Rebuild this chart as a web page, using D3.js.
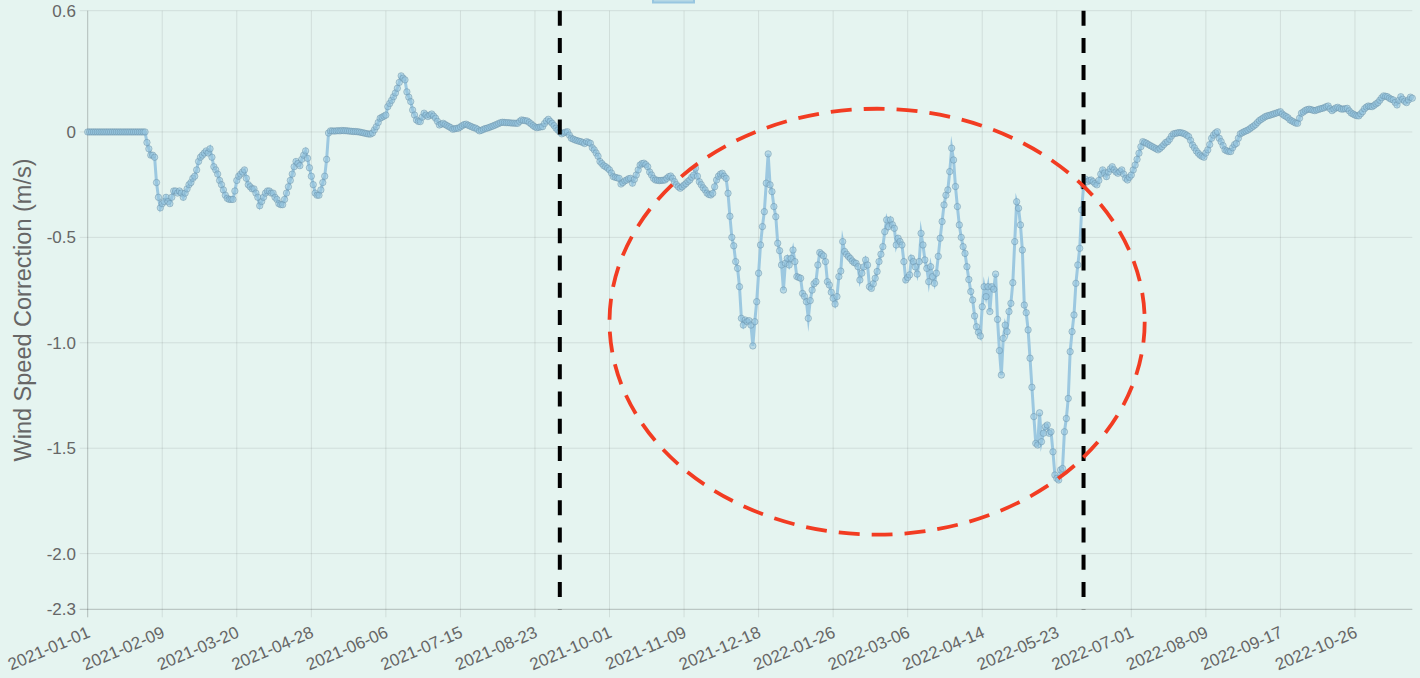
<!DOCTYPE html>
<html>
<head>
<meta charset="utf-8">
<script src="https://cdn.jsdelivr.net/npm/d3@7"></script>
<style>
  html, body { margin: 0; padding: 0; background: #e5f4f0; overflow: hidden; }
  svg { display: block; font-family: "Liberation Sans", Arial, Helvetica, sans-serif; }
</style>
</head>
<body>
<svg id="chart" width="1420" height="678"></svg>
<script>
// ---------------- data ----------------
const startDate = "2021-01-01";   // first daily value
const endDate = "2022-11-25";     // last daily value
const seriesName = "Wind Speed Correction";
const yTitle = "Wind Speed Correction (m/s)";

// daily wind speed correction (m/s), 2021
const values2021 = [
  0,0,0,0,0,0,0,0,0,0,
  0,0,0,0,0,0,0,0,0,0,
  0,0,0,0,0,0,0,0,0,0,
  0,-0.05,-0.08,-0.11,-0.11,-0.12,-0.24,-0.31,-0.36,-0.34,
  -0.33,-0.31,-0.33,-0.34,-0.31,-0.28,-0.28,-0.29,-0.28,-0.29,
  -0.31,-0.29,-0.27,-0.25,-0.24,-0.22,-0.21,-0.18,-0.14,-0.12,
  -0.11,-0.10,-0.09,-0.10,-0.08,-0.12,-0.165,-0.18,-0.20,-0.23,
  -0.25,-0.275,-0.30,-0.315,-0.32,-0.32,-0.32,-0.28,-0.23,-0.21,
  -0.20,-0.19,-0.18,-0.22,-0.25,-0.26,-0.27,-0.27,-0.29,-0.31,
  -0.35,-0.33,-0.31,-0.29,-0.28,-0.28,-0.29,-0.29,-0.31,-0.32,
  -0.34,-0.345,-0.345,-0.32,-0.29,-0.26,-0.23,-0.20,-0.165,-0.14,
  -0.15,-0.16,-0.13,-0.11,-0.09,-0.125,-0.17,-0.21,-0.25,-0.29,
  -0.30,-0.30,-0.275,-0.24,-0.21,-0.13,-0.005,0.005,0.005,0.004,
  0.005,0.006,0.005,0.007,0.006,0.006,0.005,0.004,0.003,0.002,
  0.002,0.001,0,-0.002,-0.004,-0.006,-0.008,-0.01,-0.01,-0.005,
  0.01,0.025,0.045,0.065,0.07,0.075,0.08,0.12,0.135,0.15,
  0.167,0.185,0.207,0.235,0.266,0.255,0.247,0.19,0.165,0.144,
  0.104,0.08,0.057,0.05,0.049,0.07,0.089,0.08,0.073,0.08,
  0.085,0.075,0.065,0.05,0.033,0.037,0.041,0.035,0.03,0.025,
  0.02,0.013,0.015,0.017,0.018,0.024,0.03,0.035,0.037,0.032,
  0.028,0.024,0.02,0.018,0.012,0.005,0.008,0.012,0.016,0.018,
  0.021,0.025,0.028,0.032,0.036,0.04,0.044,0.046,0.045,0.044,
  0.044,0.043,0.042,0.042,0.041,0.041,0.05,0.057,0.055,0.053,
  0.052,0.045,0.038,0.03,0.024,0.02,0.022,0.024,0.025,0.04,
  0.052,0.06,0.05,0.041,0.03,0.018,0.009,0,-0.009,-0.005,
  -0.001,0.001,-0.015,-0.03,-0.034,-0.038,-0.041,-0.044,-0.046,-0.05,
  -0.055,-0.046,-0.05,-0.054,-0.075,-0.085,-0.10,-0.115,-0.14,-0.15,
  -0.16,-0.165,-0.172,-0.18,-0.195,-0.212,-0.215,-0.218,-0.22,-0.247,
  -0.24,-0.232,-0.228,-0.222,-0.22,-0.243,-0.225,-0.204,-0.18,-0.157,
  -0.15,-0.148,-0.155,-0.165,-0.19,-0.204,-0.22,-0.228,-0.229,-0.231,
  -0.23,-0.229,-0.228,-0.22,-0.212,-0.209,-0.22,-0.236,-0.25,-0.26,
  -0.267,-0.26,-0.252,-0.245,-0.235,-0.228,-0.215,-0.205,-0.172,-0.21,
  -0.236,-0.25,-0.265,-0.275,-0.29,-0.297,-0.299,-0.291,-0.26,-0.228,
  -0.21,-0.20,-0.196,-0.21,-0.22,-0.291,-0.40,-0.50,-0.54,-0.615,
  -0.647,-0.734,-0.884,-0.916,-0.892,-0.90,-0.895,-0.916,-1.015,-0.90,
  -0.805,-0.67,-0.536,-0.449,-0.378,-0.243,-0.104,-0.251,-0.283,-0.354,
  -0.402,-0.528,-0.563,-0.631,-0.75
];
// daily wind speed correction (m/s), 2022
const values2022 = [
  -0.623,-0.60,-0.631,-0.60,-0.56,
  -0.615,-0.686,-0.69,-0.694,-0.766,-0.78,-0.805,-0.884,-0.80,-0.75,
  -0.72,-0.71,-0.631,-0.572,-0.58,-0.588,-0.615,-0.71,-0.726,-0.76,
  -0.789,-0.816,-0.781,-0.686,-0.66,-0.52,-0.567,-0.58,-0.591,-0.60,
  -0.612,-0.62,-0.623,-0.639,-0.702,-0.67,-0.64,-0.607,-0.631,-0.734,
  -0.742,-0.72,-0.694,-0.662,-0.615,-0.58,-0.544,-0.473,-0.417,-0.449,
  -0.417,-0.44,-0.457,-0.536,-0.504,-0.52,-0.536,-0.615,-0.702,-0.69,
  -0.678,-0.599,-0.615,-0.64,-0.674,-0.615,-0.481,-0.536,-0.607,-0.647,
  -0.71,-0.639,-0.686,-0.718,-0.67,-0.59,-0.504,-0.425,-0.346,-0.30,
  -0.275,-0.188,-0.077,-0.133,-0.259,-0.354,-0.441,-0.50,-0.544,-0.576,
  -0.639,-0.70,-0.757,-0.797,-0.873,-0.924,-0.95,-0.968,-0.829,-0.734,
  -0.781,-0.734,-0.852,-0.734,-0.746,-0.674,-0.889,-1.037,-1.153,-0.979,
  -0.916,-0.947,-0.852,-0.813,-0.715,-0.52,-0.331,-0.362,-0.441,-0.56,
  -0.821,-0.857,-0.939,-1.073,-1.211,-1.35,-1.477,-1.485,-1.332,-1.469,
  -1.429,-1.398,-1.39,-1.429,-1.422,-1.517,-1.627,-1.643,-1.651,-1.603,
  -1.596,-1.422,-1.359,-1.264,-1.042,-0.947,-0.868,-0.718,-0.631,-0.552,
  -0.37,-0.259,-0.224,-0.236,-0.23,-0.228,-0.236,-0.245,-0.251,-0.23,
  -0.20,-0.18,-0.195,-0.212,-0.19,-0.175,-0.165,-0.18,-0.19,-0.196,
  -0.188,-0.18,-0.2,-0.22,-0.228,-0.215,-0.204,-0.18,-0.157,-0.13,
  -0.101,-0.07,-0.046,-0.05,-0.054,-0.06,-0.065,-0.07,-0.075,-0.08,
  -0.085,-0.078,-0.07,-0.06,-0.05,-0.046,-0.035,-0.02,-0.009,-0.007,
  -0.005,-0.003,-0.004,-0.006,-0.01,-0.016,-0.022,-0.04,-0.062,-0.075,
  -0.09,-0.101,-0.11,-0.116,-0.12,-0.1,-0.085,-0.06,-0.03,-0.015,
  -0.005,0.001,-0.03,-0.046,-0.065,-0.085,-0.09,-0.093,-0.093,-0.075,
  -0.06,-0.054,-0.03,-0.009,-0.004,0.001,0.005,0.009,0.015,0.022,
  0.028,0.035,0.045,0.054,0.06,0.066,0.072,0.076,0.078,0.081,
  0.084,0.087,0.09,0.093,0.096,0.085,0.078,0.073,0.067,0.057,
  0.052,0.047,0.042,0.041,0.065,0.089,0.095,0.102,0.106,0.108,
  0.106,0.103,0.101,0.104,0.107,0.11,0.112,0.115,0.12,0.123,
  0.11,0.101,0.108,0.114,0.117,0.112,0.108,0.109,0.11,0.112,
  0.1,0.09,0.085,0.08,0.077,0.076,0.086,0.096,0.11,0.118,
  0.123,0.121,0.12,0.126,0.133,0.139,0.15,0.162,0.171,0.169,
  0.167,0.16,0.155,0.152,0.14,0.128,0.15,0.167,0.155,0.145,
  0.139,0.152,0.165,0.16
];

const xTickLabels = ["2021-01-01","2021-02-09","2021-03-20","2021-04-28","2021-06-06",
  "2021-07-15","2021-08-23","2021-10-01","2021-11-09","2021-12-18","2022-01-26",
  "2022-03-06","2022-04-14","2022-05-23","2022-07-01","2022-08-09","2022-09-17","2022-10-26"];
const yDomain = [-2.264, 0.575];
const yTickValues = [0.575, 0, -0.5, -1.0, -1.5, -2.0, -2.264];
const yTickLabels = ["0.6", "0", "-0.5", "-1.0", "-1.5", "-2.0", "-2.3"];

// annotations
const markerDates = ["2021-09-05", "2022-06-06"];
const highlightStart = "2021-10-01";
const highlightEnd = "2022-07-08";
const highlightTop = 0.11;
const highlightBottom = -1.91;

// ---------------- drawing ----------------
const parse = d3.utcParse("%Y-%m-%d");
const t0 = parse(startDate);
const values = values2021.concat(values2022);
const data = values.map((v, i) => ({ date: d3.utcDay.offset(t0, i), value: v }));

const W = 1420, H = 678;
const m = { left: 87.7, right: 1412.3, top: 10.7, bottom: 609.3 };

const x = d3.scaleUtc().domain([t0, parse(endDate)]).range([m.left, m.right]);
const y = d3.scaleLinear().domain(yDomain).range([m.bottom, m.top]);

const svg = d3.select("#chart");
svg.append("rect").attr("width", W).attr("height", H).attr("fill", "#e5f4f0");

const grid = svg.append("g");
const xTicks = xTickLabels.map(parse);

// vertical grid
grid.selectAll("line.vg").data(xTicks).join("line")
  .attr("x1", d => x(d)).attr("x2", d => x(d))
  .attr("y1", m.top).attr("y2", m.bottom + 8)
  .attr("stroke", "rgba(0,0,0,0.09)").attr("stroke-width", 1);
// horizontal grid
grid.selectAll("line.hg").data(yTickValues).join("line")
  .attr("x1", m.left - 8).attr("x2", m.right)
  .attr("y1", d => y(d)).attr("y2", d => y(d))
  .attr("stroke", "rgba(0,0,0,0.09)").attr("stroke-width", 1);
// axis lines
svg.append("line").attr("x1", m.left).attr("x2", m.left).attr("y1", m.top).attr("y2", m.bottom + 8)
  .attr("stroke", "rgba(0,0,0,0.15)");
svg.append("line").attr("x1", m.left - 8).attr("x2", m.right).attr("y1", m.bottom).attr("y2", m.bottom)
  .attr("stroke", "rgba(0,0,0,0.15)");

// y tick labels
svg.append("g").selectAll("text").data(yTickValues).join("text")
  .attr("x", 76).attr("y", d => y(d)).attr("dy", "0.36em")
  .attr("text-anchor", "end").attr("fill", "#666").attr("font-size", 17)
  .text((d, i) => yTickLabels[i]);

// x tick labels
const fmt = d3.utcFormat("%Y-%m-%d");
svg.append("g").selectAll("text").data(xTicks).join("text")
  .attr("transform", d => `translate(${x(d) + 1},${631}) rotate(-23)`)
  .attr("dy", "0.36em")
  .attr("text-anchor", "end").attr("fill", "#666").attr("font-size", 17)
  .text(d => fmt(d));

// y title
svg.append("text")
  .attr("transform", `translate(23,${(m.top + m.bottom) / 2}) rotate(-90)`)
  .attr("dy", "0.36em")
  .attr("text-anchor", "middle").attr("fill", "#666").attr("font-size", 23.5)
  .text(yTitle);

// legend (mostly outside the visible area)
svg.append("rect").attr("x", 653).attr("y", -10).attr("width", 41).attr("height", 12.5)
  .attr("fill", "rgba(150,196,222,0.6)").attr("stroke", "#98c6e0").attr("stroke-width", 2);

// series line
const line = d3.line().x(d => x(d.date)).y(d => y(d.value));
svg.append("path").datum(data)
  .attr("d", line)
  .attr("fill", "none")
  .attr("stroke", "#9cc8e0")
  .attr("stroke-width", 3)
  .attr("stroke-linejoin", "miter")
  .attr("stroke-miterlimit", 10);

// points
svg.append("g").selectAll("circle").data(data).join("circle")
  .attr("cx", d => x(d.date)).attr("cy", d => y(d.value))
  .attr("r", 3.2)
  .attr("fill", "rgba(150,196,222,0.55)")
  .attr("stroke", "rgba(100,140,165,0.45)")
  .attr("stroke-width", 1);

// black dashed vertical markers
svg.append("g").selectAll("line").data(markerDates.map(parse)).join("line")
  .attr("x1", d => x(d)).attr("x2", d => x(d))
  .attr("y1", m.top).attr("y2", m.bottom)
  .attr("stroke", "#000").attr("stroke-width", 4)
  .attr("stroke-dasharray", "15,12.2");

// red dashed ellipse
const ex0 = x(parse(highlightStart)), ex1 = x(parse(highlightEnd));
const ey0 = y(highlightTop), ey1 = y(highlightBottom);
svg.append("ellipse")
  .attr("cx", (ex0 + ex1) / 2).attr("cy", (ey0 + ey1) / 2)
  .attr("rx", (ex1 - ex0) / 2).attr("ry", (ey1 - ey0) / 2)
  .attr("fill", "none").attr("stroke", "#f23c22").attr("stroke-width", 3.8)
  .attr("stroke-dasharray", "21,12");
</script>
</body>
</html>
